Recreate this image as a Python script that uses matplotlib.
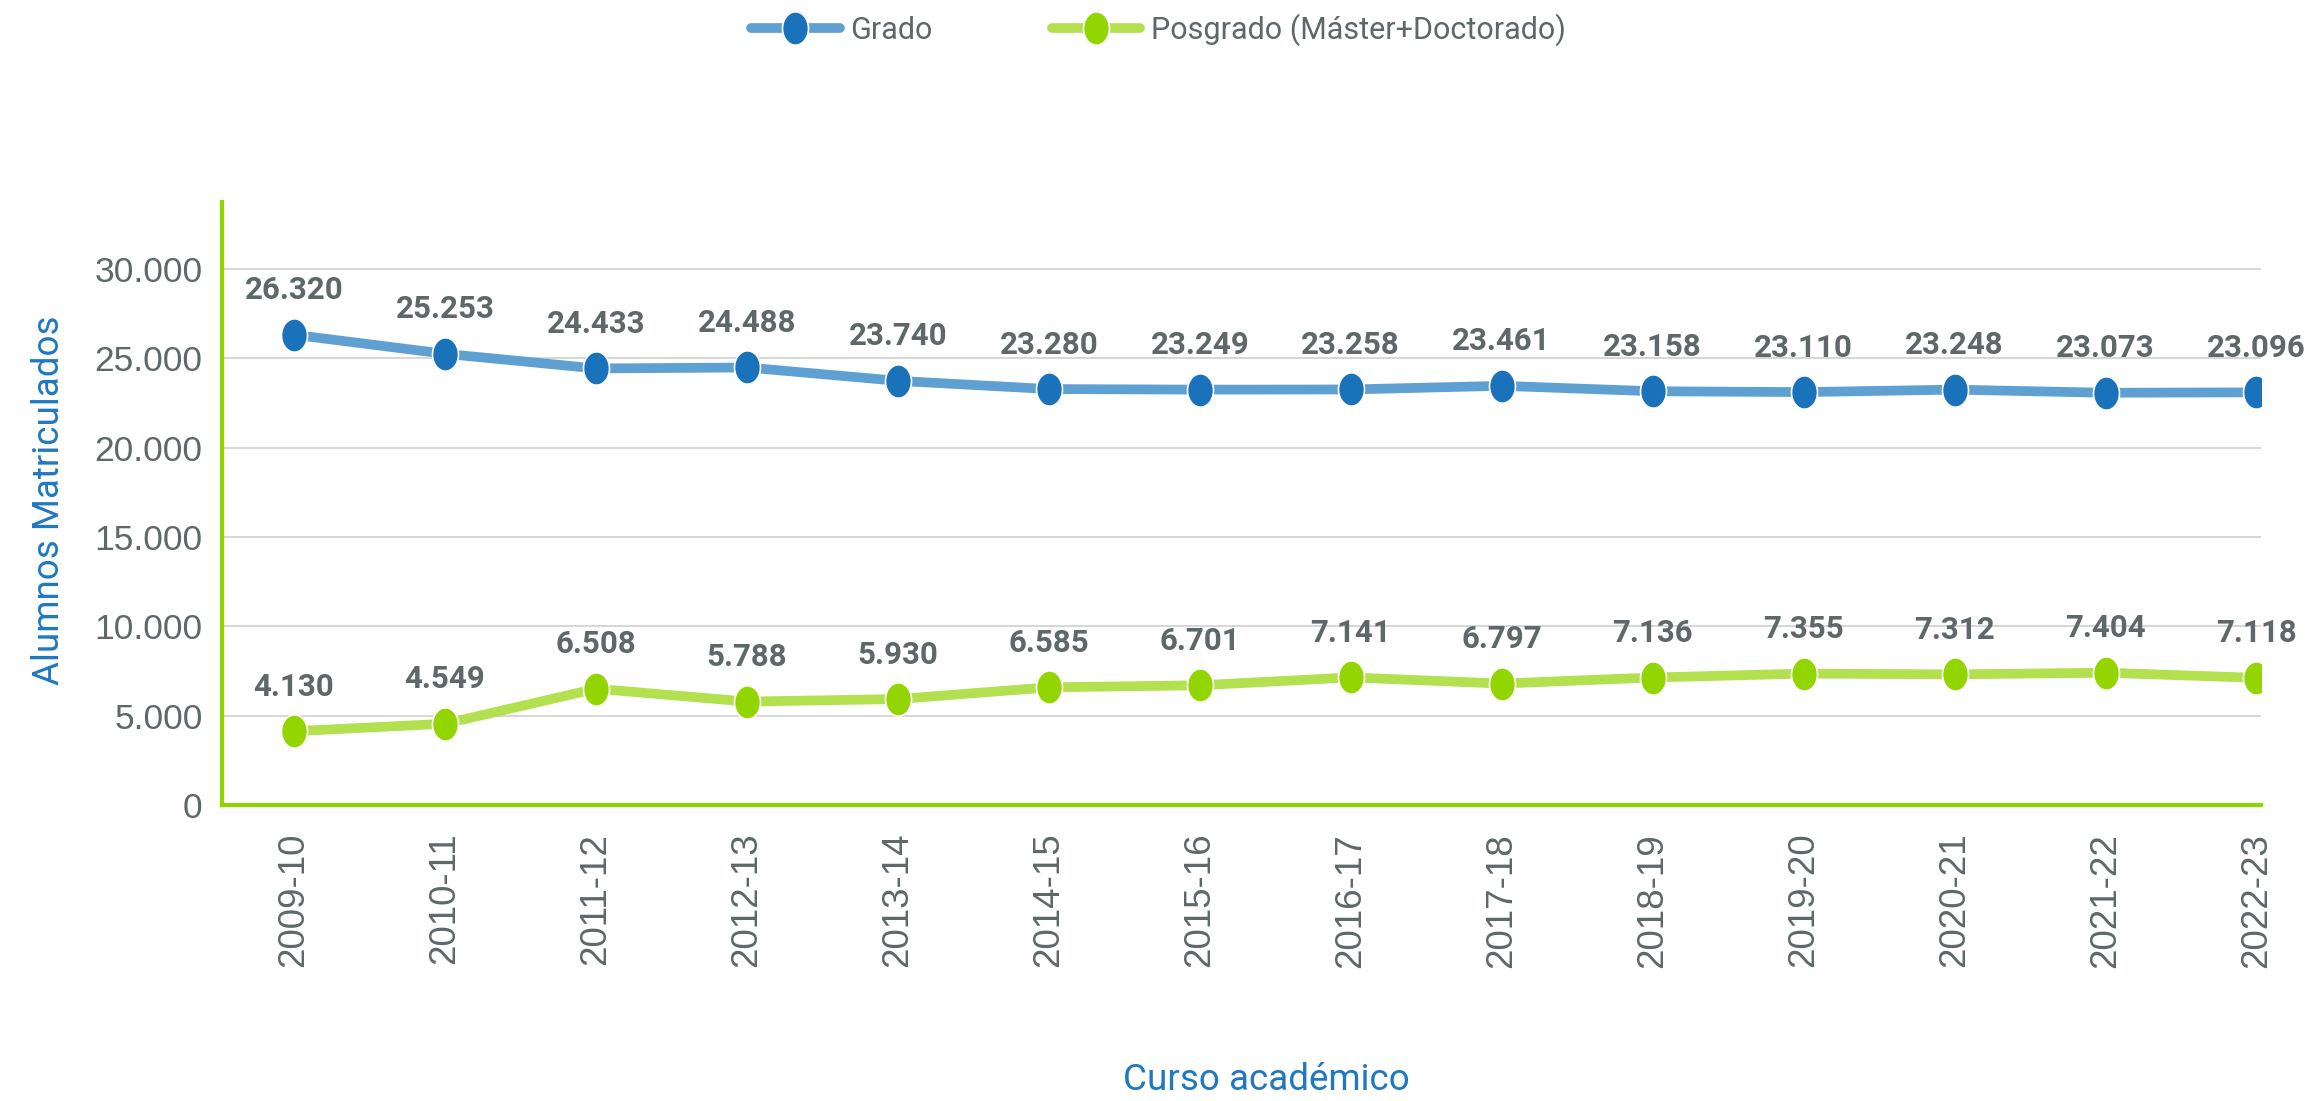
import numpy as np
import matplotlib
matplotlib.use("Agg")
import matplotlib.pyplot as plt
from matplotlib.lines import Line2D

# datos
cursos = ['2009-10', '2010-11', '2011-12', '2012-13', '2013-14', '2014-15', '2015-16',
          '2016-17', '2017-18', '2018-19', '2019-20', '2020-21', '2021-22', '2022-23']
grado = [26320, 25253, 24433, 24488, 23740, 23280, 23249, 23258, 23461, 23158, 23110, 23248, 23073, 23096]
posgrado = [4130, 4549, 6508, 5788, 5930, 6585, 6701, 7141, 6797, 7136, 7355, 7312, 7404, 7118]
yticks = [0, 5000, 10000, 15000, 20000, 25000, 30000]

GRAY = '#5f6769'
BLUE_TXT = '#1f78c1'
GREEN_AX = '#8fd300'

# marcador algo ovalado como en el original
t = np.linspace(0, 2 * np.pi, 60)
oval = np.column_stack((0.78 * np.cos(t), np.sin(t)))

def fmt(v):
    return f'{v:,}'.replace(',', '.')

fig = plt.figure(figsize=(23.17, 11.01), dpi=100)
ax = fig.add_axes([222 / 2317, 296 / 1101, (2261 - 222) / 2317, (805 - 202) / 1101])

x = np.arange(len(cursos))
series = [
    ('Grado', grado, '#1a72bb', '#5fa0d2'),
    ('Posgrado (Máster+Doctorado)', posgrado, '#93d500', '#b2e04e'),
]
for name, vals, mcol, lcol in series:
    ax.plot(x, vals, color=lcol, lw=7, solid_capstyle='butt', zorder=3)
    ax.plot(x, vals, ls='none', marker=oval, ms=24, mfc=mcol, mec='white', mew=1.2, zorder=4)
    for xi, v in zip(x, vals):
        ax.annotate(fmt(v), (xi, v), xytext=(0, 32), textcoords='offset points',
                    ha='center', va='center', fontsize=22.5, fontweight='bold',
                    family='Roboto', color=GRAY, zorder=5)

ax.set_xlim(-0.477, 13.03)
ax.set_ylim(0, 33750)
ax.set_yticks(yticks)
ax.set_yticklabels([fmt(v) for v in yticks], family='Liberation Sans', fontsize=25.5, color=GRAY)
ax.set_xticks(x)
ax.set_xticklabels(cursos, rotation=90, family='Liberation Sans', fontsize=26.5, color=GRAY)
ax.tick_params(axis='y', length=0, pad=14)
ax.tick_params(axis='x', length=0, pad=20)

for v in yticks[1:]:
    ax.axhline(v, color='#d0d0d0', lw=1.2, zorder=1)

for s in ['top', 'right']:
    ax.spines[s].set_visible(False)
for s in ['left', 'bottom']:
    ax.spines[s].set_color(GREEN_AX)
    ax.spines[s].set_linewidth(3)

fig.text(49 / 2317, 1 - 500 / 1101, 'Alumnos Matriculados', rotation=90, ha='center', va='center',
         family='Roboto', fontsize=26.5, color=BLUE_TXT)
fig.text(1266 / 2317, 1 - 1080 / 1101, 'Curso académico', ha='center', va='center',
         family='Roboto', fontsize=26.5, color=BLUE_TXT)

handles = [Line2D([], [], color=lcol, lw=7, marker=oval, ms=24, mfc=mcol, mec='white',
                  mew=1.2, solid_capstyle='round')
           for _, _, mcol, lcol in series]
leg = fig.legend(handles, [s[0] for s in series], loc='center', bbox_to_anchor=(0.5, 1 - 30 / 1101),
                 ncol=2, frameon=False, handlelength=2.9, handletextpad=0.35, columnspacing=3.9,
                 prop={'family': 'Roboto', 'size': 22})
for txt in leg.get_texts():
    txt.set_color(GRAY)

fig.savefig('out.png', dpi=100)
